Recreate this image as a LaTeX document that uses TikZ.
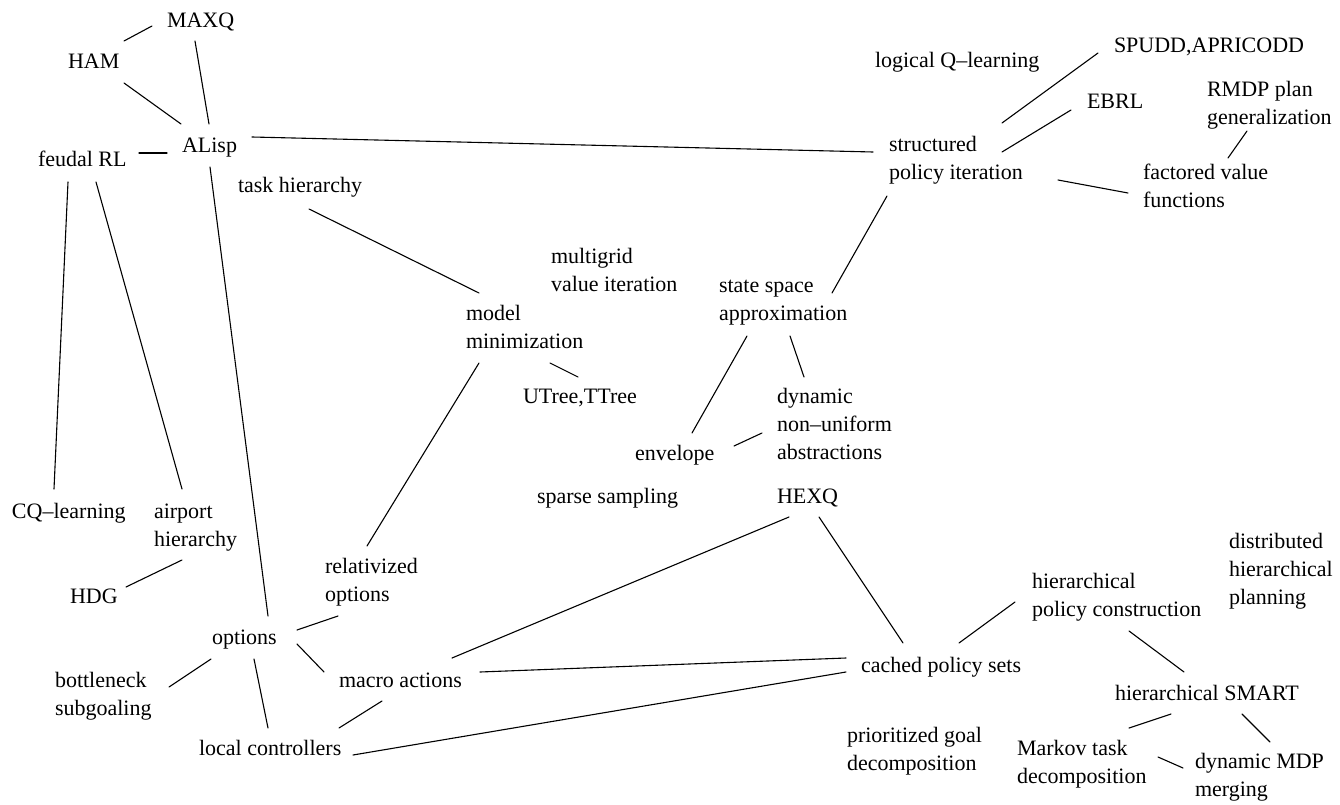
\documentclass[tikz,border=0pt]{standalone}
\usepackage{fontspec}
\setmainfont{Liberation Serif}
% left-aligned multi-line label whose baseline is that of its first line
\newcommand\stackl[1]{\vtop{\baselineskip=28pt\lineskiplimit=0pt\halign{##\hfil\cr#1\crcr}}}
\begin{document}
\begin{tikzpicture}[x=1pt,y=-1pt,
  lbl/.style={anchor=text, inner sep=0pt, font=\fontsize{22}{28}\selectfont},
  link/.style={line width=1.1pt, line cap=round}]
\useasboundingbox[fill=white] (0,0) rectangle (1340,805);

% topic labels, placed by the left end of their first baseline
\node[lbl] (maxq)    at (167,28)  {MAXQ};
\node[lbl] (ham)     at (68,69)   {HAM};
\node[lbl] (alisp)   at (182,153) {ALisp};
\node[lbl] (feudal)  at (38,167)  {feudal RL};
\node[lbl] (task)    at (238,193) {task hierarchy};
\node[lbl] (lql)     at (875,68)  {logical Q–learning};
\node[lbl] (spudd)   at (1114,53) {SPUDD,APRICODD};
\node[lbl] (ebrl)    at (1087,109){EBRL};
\node[lbl] (rmdp)    at (1207,97) {\stackl{RMDP plan\cr generalization}};
\node[lbl] (spi)     at (889,152) {\stackl{structured\cr policy iteration}};
\node[lbl] (fvf)     at (1143,180){\stackl{factored value\cr functions}};
\node[lbl] (mvi)     at (551,263) {\stackl{multigrid\cr value iteration}};
\node[lbl] (ssa)     at (719,292) {\stackl{state space\cr approximation}};
\node[lbl] (mm)      at (466,320) {\stackl{model\cr minimization}};
\node[lbl] (utree)   at (523,403) {UTree,TTree};
\node[lbl] (dyn)     at (777,403) {\stackl{dynamic\cr non–uniform\cr abstractions}};
\node[lbl] (env)     at (635,460) {envelope};
\node[lbl] (sparse)  at (537,503) {sparse sampling};
\node[lbl] (hexq)    at (777,503) {HEXQ};
\node[lbl] (cq)      at (12,518)  {CQ–learning};
\node[lbl] (airport) at (154,518) {\stackl{airport\cr hierarchy}};
\node[lbl] (hdg)     at (70,603)  {HDG};
\node[lbl] (relopt)  at (325,573) {\stackl{relativized\cr options}};
\node[lbl] (options) at (212,644) {options};
\node[lbl] (bottle)  at (55,687)  {\stackl{bottleneck\cr subgoaling}};
\node[lbl] (macro)   at (339,687) {macro actions};
\node[lbl] (local)   at (199,755) {local controllers};
\node[lbl] (cps)     at (861,672) {cached policy sets};
\node[lbl] (hpc)     at (1032,588){\stackl{hierarchical\cr policy construction}};
\node[lbl] (dhp)     at (1229,548){\stackl{distributed\cr hierarchical\cr planning}};
\node[lbl] (smart)   at (1115,700){hierarchical SMART};
\node[lbl] (pgd)     at (847,742) {\stackl{prioritized goal\cr decomposition}};
\node[lbl] (markov)  at (1017,755){\stackl{Markov task\cr decomposition}};
\node[lbl] (dmdp)    at (1195,768){\stackl{dynamic MDP\cr merging}};

% links; each end is offset from the owning label's text anchor
\draw[link] ([shift={(56,-28)}]ham.text)    -- ([shift={(-15,-2)}]maxq.text);
\draw[link] ([shift={(56,14)}]ham.text)     -- ([shift={(-1,-29)}]alisp.text);
\draw[link] ([shift={(28,13)}]maxq.text)    -- ([shift={(27,-29)}]alisp.text);
\draw[link] ([shift={(101,-14)}]feudal.text)-- ([shift={(-15,0)}]alisp.text);
\draw[link] ([shift={(70,-16)}]alisp.text)  -- ([shift={(-16,0)}]spi.text);
\draw[link] ([shift={(28,14)}]alisp.text)   -- ([shift={(56,-28)}]options.text);
\draw[link] ([shift={(30,15)}]feudal.text)  -- ([shift={(42,-29)}]cq.text);
\draw[link] ([shift={(58,15)}]feudal.text)  -- ([shift={(28,-29)}]airport.text);
\draw[link] ([shift={(71,16)}]task.text)    -- ([shift={(13,-27)}]mm.text);
\draw[link] ([shift={(113,-29)}]spi.text)   -- ([shift={(-16,0)}]spudd.text);
\draw[link] ([shift={(113,0)}]spi.text)     -- ([shift={(-16,1)}]ebrl.text);
\draw[link] ([shift={(85,-22)}]fvf.text)    -- ([shift={(40,34)}]rmdp.text);
\draw[link] ([shift={(169,28)}]spi.text)    -- ([shift={(-15,13)}]fvf.text);
\draw[link] ([shift={(-2,44)}]spi.text)     -- ([shift={(113,1)}]ssa.text);
\draw[link] ([shift={(84,43)}]mm.text)      -- ([shift={(55,-26)}]utree.text);
\draw[link] ([shift={(13,43)}]mm.text)      -- ([shift={(42,-27)}]relopt.text);
\draw[link] ([shift={(28,44)}]ssa.text)     -- ([shift={(57,-27)}]env.text);
\draw[link] ([shift={(71,44)}]ssa.text)     -- ([shift={(27,-26)}]dyn.text);
\draw[link] ([shift={(99,-14)}]env.text)    -- ([shift={(-15,30)}]dyn.text);
\draw[link] ([shift={(28,42)}]airport.text) -- ([shift={(56,-16)}]hdg.text);
\draw[link] ([shift={(85,-14)}]options.text)-- ([shift={(13,43)}]relopt.text);
\draw[link] ([shift={(-1,15)}]options.text) -- ([shift={(114,0)}]bottle.text);
\draw[link] ([shift={(85,0)}]options.text)  -- ([shift={(-15,-15)}]macro.text);
\draw[link] ([shift={(42,15)}]options.text) -- ([shift={(69,-27)}]local.text);
\draw[link] ([shift={(43,14)}]macro.text)   -- ([shift={(140,-27)}]local.text);
\draw[link] ([shift={(154,0)}]local.text)   -- ([shift={(-15,0)}]cps.text);
\draw[link] ([shift={(141,-15)}]macro.text) -- ([shift={(-15,-14)}]cps.text);
\draw[link] ([shift={(113,-29)}]macro.text) -- ([shift={(12,14)}]hexq.text);
\draw[link] ([shift={(42,14)}]hexq.text)    -- ([shift={(42,-29)}]cps.text);
\draw[link] ([shift={(98,-29)}]cps.text)    -- ([shift={(-17,14)}]hpc.text);
\draw[link] ([shift={(97,43)}]hpc.text)     -- ([shift={(69,-28)}]smart.text);
\draw[link] ([shift={(56,14)}]smart.text)   -- ([shift={(112,-27)}]markov.text);
\draw[link] ([shift={(127,14)}]smart.text)  -- ([shift={(75,-26)}]dmdp.text);
\draw[link] ([shift={(141,2)}]markov.text)  -- ([shift={(-12,0)}]dmdp.text);
\end{tikzpicture}
\end{document}
